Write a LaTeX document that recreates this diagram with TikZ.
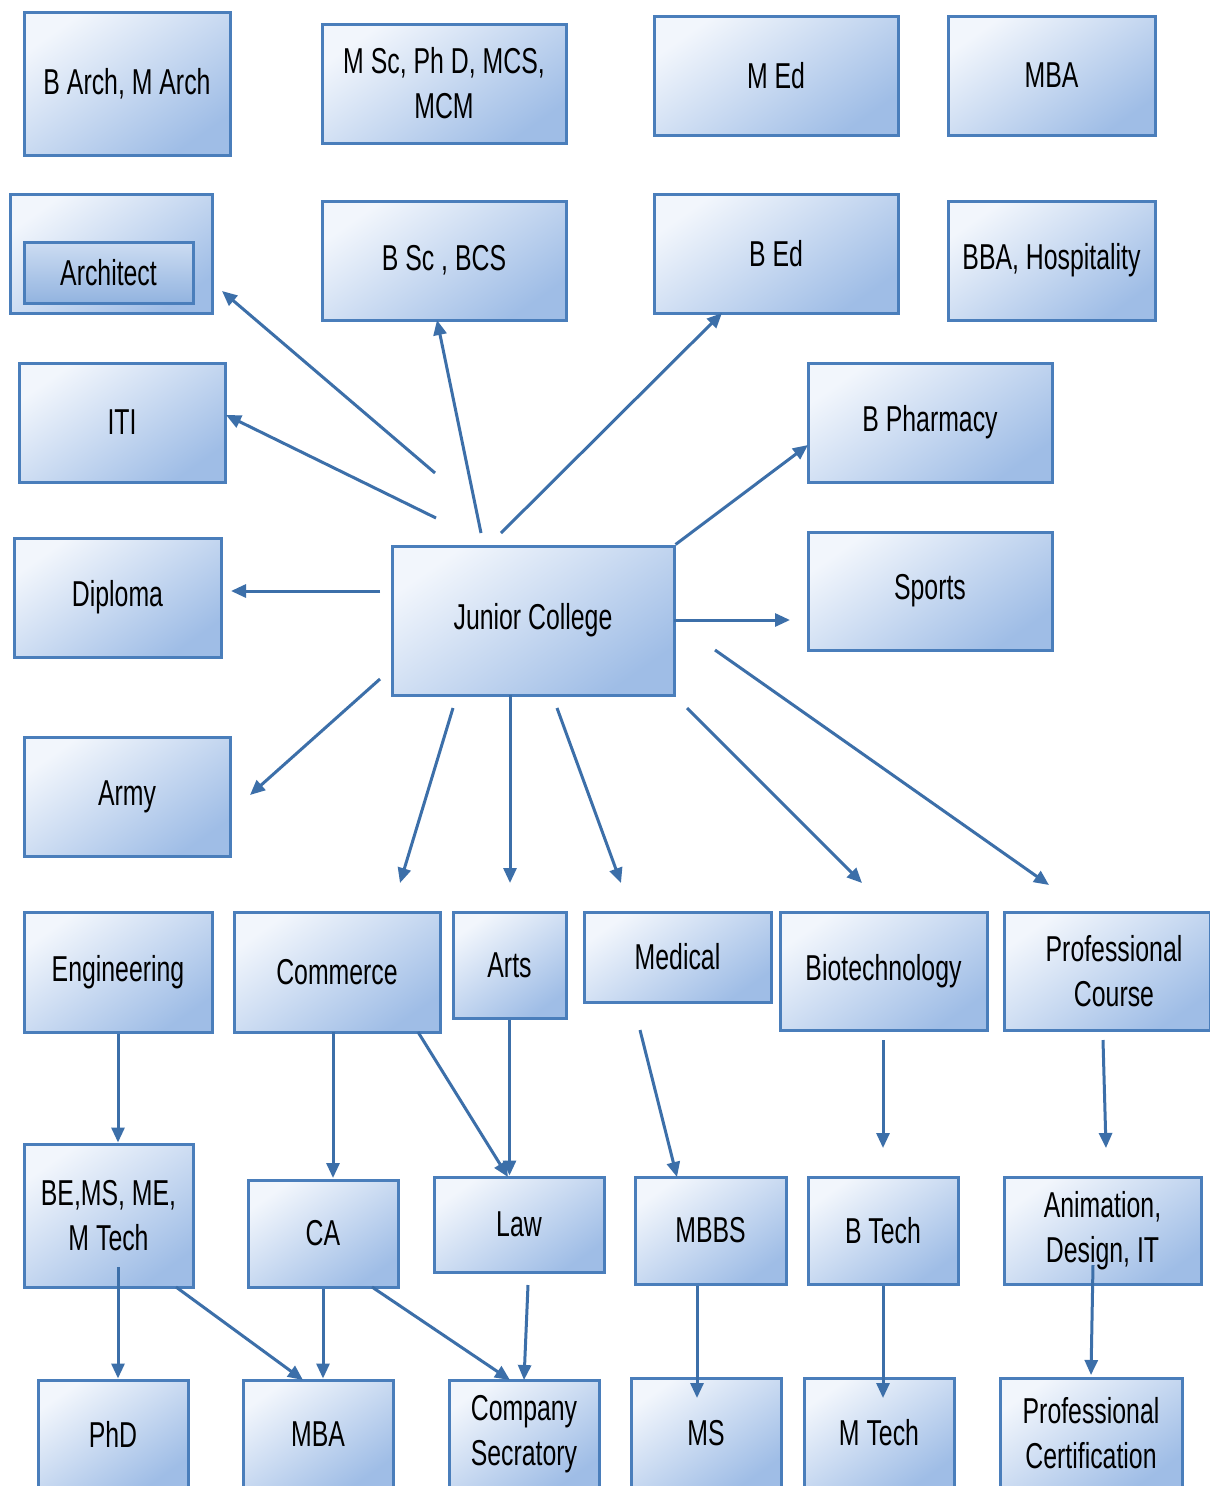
\documentclass[tikz,border=0pt]{standalone}
\usepackage{fontspec}
\setmainfont{Liberation Sans}[FakeStretch=0.69]
\usetikzlibrary{arrows.meta}
\definecolor{boxline}{HTML}{4A7EBB}
\definecolor{boxlight}{HTML}{F2F6FC}
\definecolor{boxdark}{HTML}{9FBDE6}
\definecolor{arrowblue}{HTML}{3C6FA9}
\tikzset{
  box/.style={draw=boxline, line width=3pt, top color=boxlight, bottom color=boxdark,
    shading angle=35, inner sep=2pt, align=center, text=black,
    font={\fontsize{36}{45}\selectfont}},
  innerbox/.style={box, top color=boxlight!55!boxdark, bottom color=boxdark!85!boxline},
  arr/.style={draw=arrowblue, line width=3pt, -{Triangle[length=15pt,width=13pt]}}
}
\newcommand{\bx}[6][box]{\node[#1, minimum width=#4pt, minimum height=#5pt] (#2) at (#3) {#6};}
\begin{document}
\begin{tikzpicture}[x=1pt, y=-1pt]
\useasboundingbox (0,0) rectangle (1210,1486);
\clip (0,0) rectangle (1210,1486);
\fill[white] (0,0) rectangle (1210,1486);

% top rows: postgraduate and graduate courses
\bx{barch}{127,83.5}{206}{143}{B Arch, M Arch}
\bx{msc}{444,83.5}{244}{119}{M Sc, Ph D, MCS,\\MCM}
\bx{med}{776,75.5}{244}{119}{M Ed}
\bx{mbatop}{1051.5,75.5}{207}{119}{MBA}
\bx{archo}{111,253.5}{202}{119}{}
\bx[innerbox]{arch}{108.5,272.5}{169}{61}{Architect}
\bx{bsc}{444,260.5}{244}{119}{B Sc , BCS}
\bx{bed}{776,253.5}{244}{119}{B Ed}
\bx{bba}{1051.5,260.5}{207}{119}{BBA, Hospitality}

% middle: junior college and its options
\bx{iti}{122,422.5}{206}{119}{ITI}
\bx{bph}{930,422.5}{244}{119}{B Pharmacy}
\bx{dip}{117.5,597.5}{207}{119}{Diploma}
\bx{jc}{533,620.5}{282}{149}{Junior College}
\bx{sports}{930,591}{244}{118}{Sports}
\bx{army}{127,796.5}{206}{119}{Army}

% streams
\bx{eng}{118,972}{188}{120}{Engineering}
\bx{com}{337,972}{206}{120}{Commerce}
\bx{arts}{509.5,965}{113}{106}{Arts}
\bx{medl}{677.5,957}{187}{90}{Medical}
\bx{bio}{883.5,971}{207}{118}{Biotechnology}
\bx{prof}{1107,971}{206}{118}{\hspace*{14pt}Professional\\\hspace*{14pt}Course}

% degrees
\bx{be}{108.5,1215.5}{169}{143}{BE,MS, ME,\\M Tech}
\bx{ca}{323,1233.5}{150}{107}{CA}
\bx{law}{519,1224.5}{170}{95}{Law}
\bx{mbbs}{710.5,1230.5}{151}{107}{MBBS}
\bx{btech}{883,1230.5}{150}{107}{B Tech}
\bx{anim}{1102.5,1230.5}{197}{107}{Animation,\\Design, IT}

% further studies
\bx{phd}{113,1434}{150}{108}{PhD}
\bx{mbab}{318,1434}{150}{108}{MBA}
\bx{cs}{524,1434}{150}{108}{Company\\Secratory}
\bx{ms}{706,1433}{150}{110}{MS}
\bx{mtech}{879,1433}{150}{110}{M Tech}
\bx{pcert}{1091,1433}{182}{110}{Professional\\Certification}

% connector end points around the junior college
\coordinate (j1) at (435,473);   \coordinate (t1) at (222,291);
\coordinate (j2) at (436,518);   \coordinate (t2) at (226,415);
\coordinate (j3) at (481,533);   \coordinate (t3) at (437,320);
\coordinate (j4) at (501,533);   \coordinate (t4) at (722,313);
\coordinate (t5) at (808,445);
\coordinate (j6) at (380,591);   \coordinate (t6) at (231,591);
\coordinate (j7) at (674,620);   \coordinate (t7) at (790,620);
\coordinate (j8) at (380,679);   \coordinate (t8) at (250,795);
\coordinate (j9) at (453,708);   \coordinate (t9) at (400,883);
\coordinate (j10) at (510,695);  \coordinate (t10) at (510,883);
\coordinate (j11) at (557,708);  \coordinate (t11) at (621,883);
\coordinate (j12) at (687,708);  \coordinate (t12) at (862,883);
\coordinate (j13) at (715,650);  \coordinate (t13) at (1049,885);

\draw[arr] (j1) -- (t1);
\draw[arr] (j2) -- (t2);
\draw[arr] (j3) -- (t3);
\draw[arr] (j4) -- (t4);
\draw[arr] (jc.north east) -- (t5);
\draw[arr] (j6) -- (t6);
\draw[arr] (j7) -- (t7);
\draw[arr] (j8) -- (t8);
\draw[arr] (j9) -- (t9);
\draw[arr] (j10) -- (t10);
\draw[arr] (j11) -- (t11);
\draw[arr] (j12) -- (t12);
\draw[arr] (j13) -- (t13);

% connector end points between streams and degrees
\coordinate (k1) at (333,1032);  \coordinate (k2) at (333,1178);
\coordinate (c1) at (418,1032);  \coordinate (l1) at (508,1177);
\coordinate (m1) at (640,1030);  \coordinate (m2) at (677,1177);
\coordinate (b1) at (883,1040);  \coordinate (b2) at (883,1148);
\coordinate (p1) at (1103,1040); \coordinate (p2) at (1106,1148);
\coordinate (e1) at (118,1267);
\coordinate (e2) at (176,1287);  \coordinate (e3) at (303,1380);
\coordinate (a1) at (372,1287);  \coordinate (a2) at (510,1380);
\coordinate (w1) at (528,1285);  \coordinate (w2) at (524,1380);
\coordinate (s1) at (697,1398);
\coordinate (s2) at (883,1398);
\coordinate (n1) at (1093,1265); \coordinate (n2) at (1091,1375);

\draw[arr] (eng.south) -- (be.north -| eng.south);
\draw[arr] (k1) -- (k2);
\draw[arr] (c1) -- (l1);
\draw[arr] (arts.south) -- (law.north -| arts.south);
\draw[arr] (m1) -- (m2);
\draw[arr] (b1) -- (b2);
\draw[arr] (p1) -- (p2);
\draw[arr] (e1) -- (phd.north -| e1);
\draw[arr] (e2) -- (e3);
\draw[arr] (ca.south) -- (mbab.north -| ca.south);
\draw[arr] (a1) -- (a2);
\draw[arr] (w1) -- (w2);
\draw[arr] (mbbs.south -| s1) -- (s1);
\draw[arr] (btech.south -| s2) -- (s2);
\draw[arr] (n1) -- (n2);
\end{tikzpicture}
\end{document}
